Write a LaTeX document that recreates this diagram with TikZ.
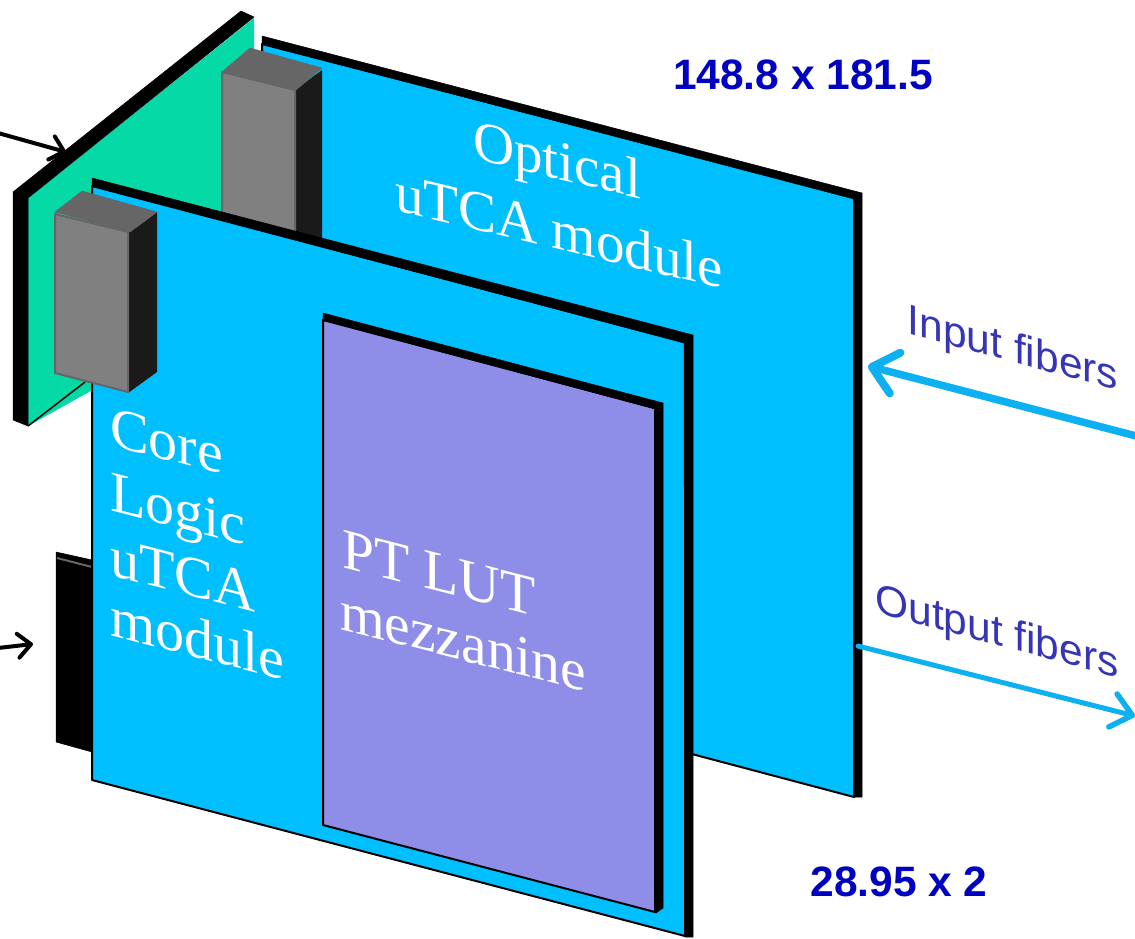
\documentclass[tikz,border=0pt]{standalone}
\usepackage{fontspec}
\setmainfont{Liberation Serif}
\newfontfamily\arialf{Liberation Sans}
\usetikzlibrary{arrows.meta}
\definecolor{boardblue}{HTML}{00BFFF}
\definecolor{boardgreen}{HTML}{05D9A6}
\definecolor{mezzpurple}{HTML}{8E8EE8}
\definecolor{fiberblue}{HTML}{0DB0F0}
\definecolor{sizeblue}{HTML}{0000C0}
\definecolor{labelblue}{HTML}{3535B5}
\definecolor{facegray}{HTML}{808080}
\definecolor{topgray}{HTML}{666666}
\definecolor{sidedark}{HTML}{1A1A1A}
\tikzset{
  board/.style={fill=boardblue,draw=black,line width=2pt,line join=round},
  edgestrip/.style={fill=black,draw=black,line width=.5pt,line join=round},
  frontface/.style={fill=facegray,draw=topgray,line width=2pt,line join=round},
  topface/.style={fill=topgray,draw=topgray,line width=.5pt,line join=round},
  sideface/.style={fill=sidedark,draw=none},
  boardtext/.style={text=white,font=\fontsize{57}{57}\selectfont,yslant=-0.24,inner sep=0pt},
  leftboardtext/.style={text=white,font=\fontsize{58}{58}\selectfont,yslant=-0.26,inner sep=0pt,anchor=base west},
  mezztext/.style={text=white,font=\fontsize{57.5}{57.5}\selectfont,yslant=-0.255,inner sep=0pt,anchor=base west},
  fibertext/.style={text=labelblue,font=\arialf\fontsize{42.5}{42.5}\selectfont,yslant=-0.27,inner sep=0pt},
  sizetext/.style={text=sizeblue,font=\arialf\bfseries\fontsize{42.5}{42.5}\selectfont,inner sep=0pt},
  inarrow/.style={draw=fiberblue,line cap=round,line width=7.5pt,-{Straight Barb[length=24pt,width=42pt,line width=8pt,round]}},
  outarrow/.style={draw=fiberblue,line cap=round,line width=5pt,-{Straight Barb[length=20pt,width=34pt,line width=5.5pt,round]}},
  pointer/.style={draw=black,line cap=round,line width=4pt,-{Straight Barb[length=13pt,width=24pt,line width=4pt,round]}}
}
\begin{document}
\begin{tikzpicture}[x=1pt,y=-1pt]
\useasboundingbox (0,0) rectangle (1135,938);
% green board
\fill[boardgreen] (28,198) -- (254,18) -- (254,300) -- (28,426) -- cycle;
\draw[black,line width=1.5pt] (28,426) -- (85,382);
\path[edgestrip] (13,192) -- (241,11) -- (254,17) -- (28,198) -- cycle;
\path[edgestrip] (13,192) -- (28,198) -- (28,426) -- (13,420) -- cycle;
% optical board
\path[board] (262,44) -- (854,197) -- (854,797) -- (262,640) -- cycle;
\path[edgestrip] (262,36) -- (862,193) -- (862,797) -- (855,797) -- (854,199) -- (262,44) -- cycle;
% back connector
\path[sideface] (295,90) -- (322,70) -- (322,300) -- (295,300) -- cycle;
\path[frontface] (222,72) -- (295,90) -- (295,300) -- (222,300) -- cycle;
\path[topface] (222,72) -- (250,48) -- (322,68) -- (296,90) -- cycle;
% black connector
\path[edgestrip] (56,552) -- (92,560) -- (92,752) -- (56,742) -- cycle;
\draw[topgray,line width=2pt] (57,558) -- (92,567);
% front board
\fill[white] (254,300) -- (692,420) -- (692,752) -- (254,640) -- cycle;
\path[board] (92,186) -- (685,342) -- (685,936) -- (92,780) -- cycle;
\path[edgestrip] (92,178) -- (693,335) -- (693,937) -- (685,937) -- (684,343) -- (92,186) -- cycle;
% front connector
\path[sideface] (128,232) -- (157,212) -- (157,372) -- (128,393) -- cycle;
\path[frontface] (55,214) -- (128,232) -- (128,392) -- (55,373) -- cycle;
\path[topface] (55,212) -- (82,191) -- (157,212) -- (130,232) -- cycle;
% mezzanine
\path[fill=mezzpurple,draw=black,line width=2pt] (323,320) -- (655,408) -- (655,912) -- (323,825) -- cycle;
\path[edgestrip] (323,313) -- (663,403) -- (663,908) -- (656,913) -- (655,409) -- (323,320) -- cycle;
% board labels
\node[boardtext] (optical) at (557,165) {Optical};
\node[boardtext] (utcaback) at (559,230) {uTCA module};
\node[leftboardtext] (core) at (110,445) {Core};
\node[leftboardtext] (logic) at (110,510) {Logic};
\node[leftboardtext] (utcafront) at (110,575) {uTCA};
\node[leftboardtext] (modulelab) at (110,635) {module};
\node[mezztext] (ptlut) at (342,567) {PT LUT};
\node[mezztext] (mezz) at (340,629) {mezzanine};
% fibre labels
\node[fibertext] (inlab) at (1013,351) {Input fibers};
\node[fibertext] (outlab) at (997,634) {Output fibers};
% size labels
\node[sizetext] (size1) at (803,75) {148.8 x 181.5};
\node[sizetext] (size2) at (899,882) {28.95 x 2};
% arrows
\coordinate (intail) at (1140,437);
\coordinate (inhead) at (868,366);
\coordinate (outtail) at (858,646);
\coordinate (outhead) at (1135,716);
\coordinate (p1tail) at (-2,133);
\coordinate (p1head) at (66,152);
\coordinate (p2tail) at (-2,648);
\coordinate (p2head) at (33,644);
\draw[inarrow] (intail) -- (inhead);
\draw[outarrow] (outtail) -- (outhead);
\draw[pointer] (p1tail) -- (p1head);
\draw[pointer] (p2tail) -- (p2head);
\end{tikzpicture}
\end{document}
